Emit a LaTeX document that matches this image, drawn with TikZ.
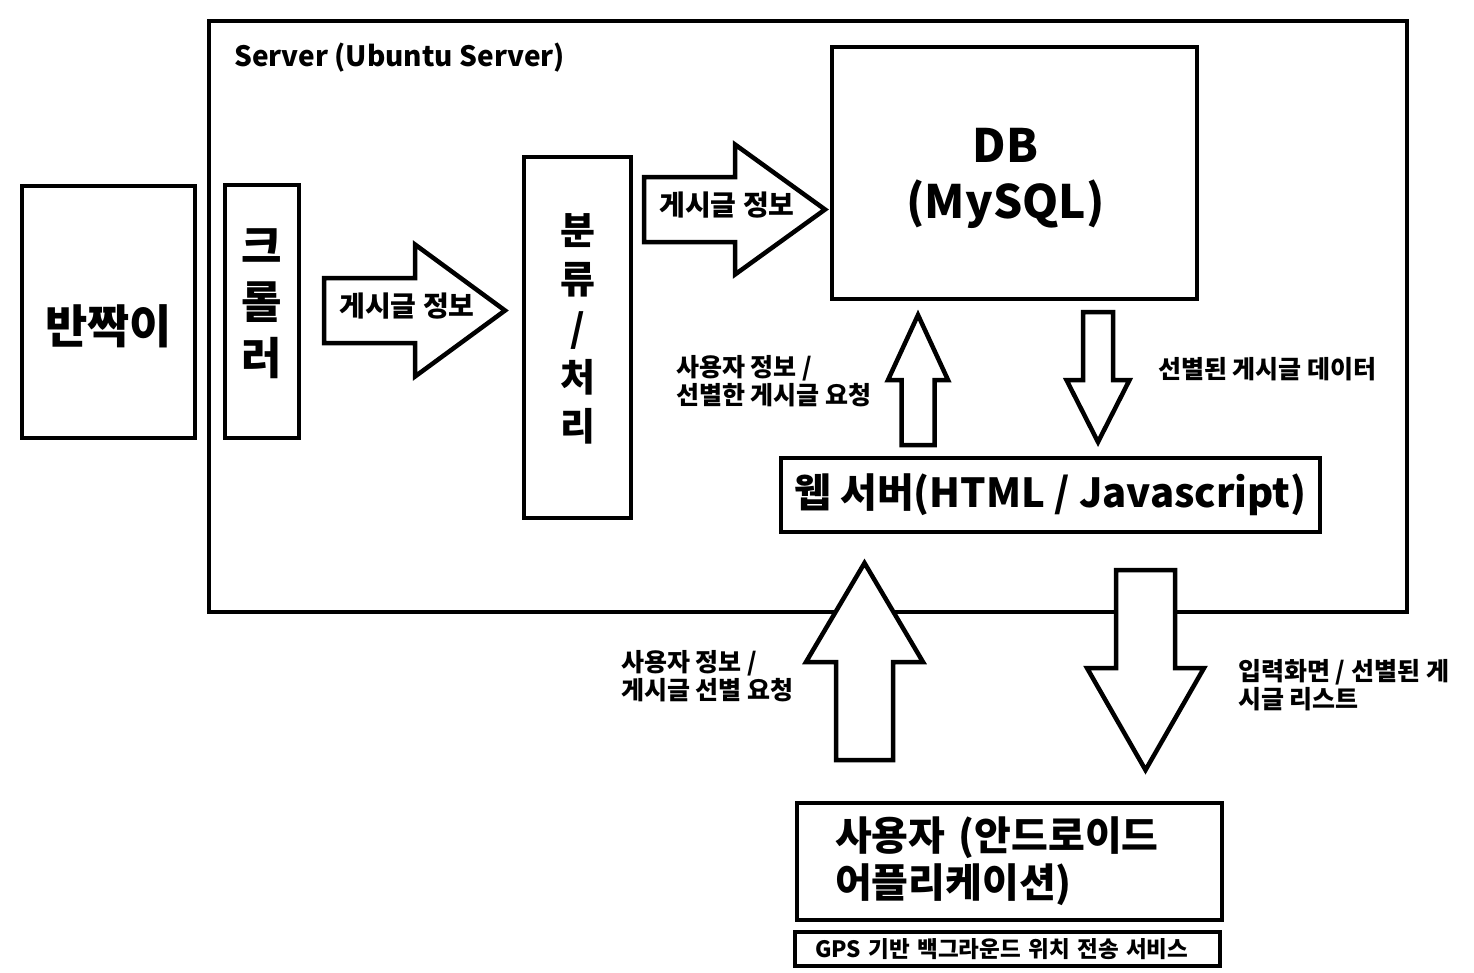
\documentclass[tikz,border=0pt]{standalone}
\usepackage{fontspec}
\setmainfont{Noto Sans CJK KR}
\usetikzlibrary{positioning, calc}
\tikzset{
        x=1pt, y=-1pt, % one unit is one pixel of the sketch, y grows downwards
        box/.style={draw, line width=4.5pt, inner sep=0pt}, % every framed box
        box text/.style={inner sep=0pt, align=center}, % text set inside a box
        label text/.style={inner sep=0pt, align=left, font=\fontsize{25}{28}\selectfont\bfseries}, % texts beside the arrows
        fat arrow/.style n args={3}{draw, fill=white, line width=4.5pt, line join=miter, % shaft half width, head half width, head length
            to path={let \p1=(\tikztostart), \p2=(\tikztotarget),
                \n1={atan2(\y2-\y1,\x2-\x1)}, \n2={veclen(\x2-\x1,\y2-\y1)} in
                [shift={(\p1)}, rotate=\n1]
                (0,#1) -- (\n2-#3,#1) -- (\n2-#3,#2) -- (\n2,0) -- (\n2-#3,-#2) -- (\n2-#3,-#1) -- (0,-#1) -- cycle}},
    }
\begin{document}
\begin{tikzpicture}
    \useasboundingbox (0,0) rectangle (1474,972);
    \node[box, minimum width=1198, minimum height=591] (server) at (808,316.5) {};
    \node[inner sep=0pt, anchor=west, font=\fontsize{28}{28}\selectfont\bfseries] (servername) at (234,58) {Server (Ubuntu Server)};

    \node[box, minimum width=173, minimum height=252] (banjjak) at (108.5,312) {};
    \node[box text, font=\fontsize{46}{46}\selectfont\bfseries] (banjjak name) at ([yshift=-14]banjjak.center) {반짝이};
    \node[box, minimum width=74, minimum height=253] (crawler) at (262,311.5) {};
    \node[box text, font=\fontsize{44}{56}\selectfont\bfseries] (crawler name) at ([yshift=8]crawler.center) {크\\롤\\러};
    \node[box, minimum width=107, minimum height=361] (classify) at (577.5,337.5) {};
    \node[box text, font=\fontsize{38}{49}\selectfont\bfseries] (classify name) at ([yshift=9]classify.center) {분\\류\\/\\처\\리};
    \node[box, minimum width=365, minimum height=252] (db) at (1014.5,173) {};
    \node[box text, font=\fontsize{46}{56}\selectfont\bfseries] (db name) at ([xshift=-9, yshift=-5]db.center) {DB\\(MySQL)};
    \node[box, minimum width=539, minimum height=74, font=\fontsize{40}{40}\selectfont\bfseries] (web) at (1050.5,495) {웹 서버(HTML / Javascript)};
    \node[box, minimum width=425, minimum height=117, text width=349, inner xsep=38pt, align=left, font=\fontsize{40}{47}\selectfont\bfseries] (user) at (1009.5,861.5) {사용자 (안드로이드\\어플리케이션)};
    \node[box, minimum width=425, minimum height=34, text width=385, inner xsep=20pt, align=left, font=\fontsize{22.5}{22.5}\selectfont\bfseries] (gps) at (1007.5,949) {GPS 기반 백그라운드 위치 전송 서비스};

    % ends of the fat arrows
    \coordinate (crawl out) at (324,310.5);
    \coordinate (classify in) at (505,310.5);
    \coordinate (classify out) at (644,209.5);
    \coordinate (db in) at (825,209.5);
    \coordinate (web up) at (918,445);
    \coordinate (db up) at (918,315);
    \coordinate (db down) at (1098,312);
    \coordinate (web down) at (1098,442);
    \coordinate (user up) at (864.5,760);
    \coordinate (web in) at (864.5,563);
    \coordinate (web out) at (1145.5,570);
    \coordinate (user in) at (1145.5,770);

    \draw[fat arrow={32.5}{66}{90}] (crawl out) to (classify in);
    \draw[fat arrow={32.5}{65}{90}] (classify out) to (db in);
    \draw[fat arrow={16.5}{30}{65}] (web up) to (db up);
    \draw[fat arrow={15}{31.5}{62}] (db down) to (web down);
    \draw[fat arrow={28.5}{58.5}{99}] (user up) to (web in);
    \draw[fat arrow={29.5}{58.5}{102}] (web out) to (user in);

    \node[inner sep=0pt, font=\fontsize{28}{28}\selectfont\bfseries] (post1) at (407,306) {게시글 정보};
    \node[inner sep=0pt, font=\fontsize{28}{28}\selectfont\bfseries] (post2) at (727,205) {게시글 정보};
    \node[label text, anchor=west] (ask db) at (676,381) {사용자 정보 /\\선별한 게시글 요청};
    \node[label text, anchor=west] (db data) at (1158,369) {선별된 게시글 데이터};
    \node[label text, anchor=west] (ask web) at (621,676) {사용자 정보 /\\게시글 선별 요청};
    \node[label text, anchor=west] (web data) at (1238,685) {입력화면 / 선별된 게\\시글 리스트};
\end{tikzpicture}
\end{document}
